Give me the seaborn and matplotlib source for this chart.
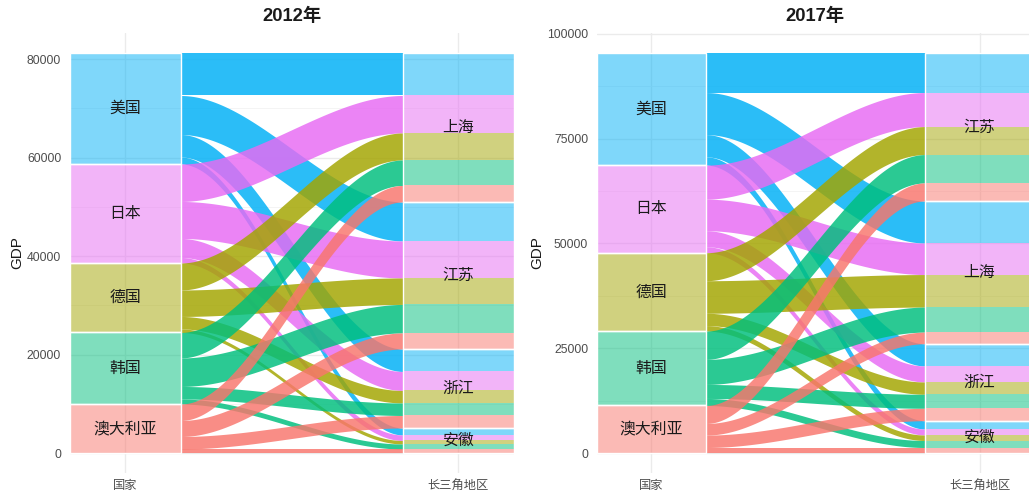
import matplotlib
matplotlib.use("Agg")
import matplotlib.pyplot as plt
import numpy as np
import pandas as pd
import seaborn as sns

# ---------------- data ----------------
countries = ['美国', '日本', '德国', '韩国', '澳大利亚']
country_colors = ['#00B0F6', '#E76BF3', '#A3A500', '#00BF7D', '#F8766D']

regions_2012 = ['上海', '江苏', '浙江', '安徽']
us_2012 = [8630, 7920, 4570, 1420]
jp_2012 = [7610, 7510, 3860, 1120]
de_2012 = [5480, 5380, 2540, 710]
kr_2012 = [5180, 5790, 2540, 1020]
au_2012 = [3350, 3250, 2540, 810]

regions_2017 = ['江苏', '上海', '浙江', '安徽']
us_2017 = [9430, 10030, 5300, 1980]
jp_2017 = [8120, 7520, 3820, 1430]
de_2017 = [6680, 7760, 2940, 1310]
kr_2017 = [6760, 5970, 3340, 1670]
au_2017 = [4300, 2770, 2960, 1310]

yticks_2012 = [0, 20000, 40000, 60000, 80000]
yticks_2017 = [0, 25000, 50000, 75000, 100000]
axis_labels = ['国家', '长三角地区']
titles = ['2012年', '2017年']


def long_table(regions, rows):
    recs = []
    for c, vals in zip(countries, rows):
        for r, v in zip(regions, vals):
            recs.append({'country': c, 'region': r, 'gdp': v})
    return pd.DataFrame(recs)


df12 = long_table(regions_2012, [us_2012, jp_2012, de_2012, kr_2012, au_2012])
df17 = long_table(regions_2017, [us_2017, jp_2017, de_2017, kr_2017, au_2017])

# ---------------- style ----------------
sns.set_theme(style="white")
plt.rcParams['font.family'] = ['Liberation Sans', 'Noto Sans CJK SC', 'DejaVu Sans']
palette = dict(zip(countries, sns.color_palette(country_colors)))

W, H = 1029, 495
fig = plt.figure(figsize=(W / 100, H / 100), dpi=100)


def smooth(t):
    return 3 * t ** 2 - 2 * t ** 3


def draw(ax, df, regions, yticks, title):
    total = df['gdp'].sum()
    w = 1 / 3
    xl, xr = 1 + w / 2, 2 - w / 2
    val = {(r.country, r.region): r.gdp for r in df.itertuples()}

    # left stacking: countries top->bottom, inside each: regions order
    left = {}
    left_strata = {}
    top = total
    for c in countries:
        ctop = top
        for r in regions:
            v = val[(c, r)]
            left[(c, r)] = (top - v, top)
            top -= v
        left_strata[c] = (top, ctop)
    # right stacking: regions top->bottom, inside each: countries order
    right = {}
    right_strata = {}
    top = total
    for r in regions:
        rtop = top
        for c in countries:
            v = val[(c, r)]
            right[(c, r)] = (top - v, top)
            top -= v
        right_strata[r] = (top, rtop)

    # grid
    minor = [(a + b) / 2 for a, b in zip(yticks[:-1], yticks[1:])]
    ax.set_yticks(yticks)
    ax.set_yticks(minor, minor=True)
    ax.set_xticks([1, 2])
    ax.set_xticklabels(axis_labels)
    ax.set_yticklabels([str(t) for t in yticks])
    ax.grid(which='major', color='#EBEBEB', linewidth=1.0)
    ax.grid(which='minor', axis='y', color='#F2F2F2', linewidth=0.6)
    ax.set_axisbelow(True)

    # flows
    xs = np.linspace(xl, xr, 200)
    t = (xs - xl) / (xr - xl)
    s = smooth(t)
    for c in countries:
        for r in regions:
            lb, lt = left[(c, r)]
            rb, rt = right[(c, r)]
            lower = lb + (rb - lb) * s
            upper = lt + (rt - lt) * s
            ax.fill_between(xs, lower, upper, color=palette[c], alpha=0.83,
                            linewidth=0, zorder=2)

    # lodes (light fill)
    for c in countries:
        for r in regions:
            lb, lt = left[(c, r)]
            ax.bar(1, lt - lb, bottom=lb, width=w, color=palette[c], alpha=0.5,
                   linewidth=0, zorder=3)
            rb, rt = right[(c, r)]
            ax.bar(2, rt - rb, bottom=rb, width=w, color=palette[c], alpha=0.5,
                   linewidth=0, zorder=3)
    # strata borders
    for c, (b, tp) in left_strata.items():
        ax.bar(1, tp - b, bottom=b, width=w, fill=False, edgecolor='white',
               linewidth=1.0, zorder=4)
        ax.text(1, (b + tp) / 2, c, ha='center', va='center', fontsize=11.4,
                color='#1a1a1a', zorder=5)
    for r, (b, tp) in right_strata.items():
        ax.bar(2, tp - b, bottom=b, width=w, fill=False, edgecolor='white',
               linewidth=1.0, zorder=4)
        ax.text(2, (b + tp) / 2, r, ha='center', va='center', fontsize=11.4,
                color='#1a1a1a', zorder=5)

    ax.set_xlim(1 - w / 2, 2 + w / 2)
    ax.set_ylim(-0.05 * total, 1.05 * total)
    for sp in ax.spines.values():
        sp.set_visible(False)
    ax.tick_params(axis='both', which='both', length=0, labelsize=8.8,
                   labelcolor='#4D4D4D')
    ax.tick_params(axis='y', pad=6)
    ax.tick_params(axis='x', pad=5)
    ax.set_ylabel('GDP', fontsize=11, color='#1a1a1a')
    ax.set_xlabel('')
    ax.set_title(title, fontsize=13.2, fontweight='bold', color='#1a1a1a', pad=9)


# panel 1
ax1 = fig.add_axes([69.5 / W, 1 - 473 / H, 444.4 / W, 440 / H])
draw(ax1, df12, regions_2012, yticks_2012, titles[0])
ax1.yaxis.label.set_va('center')
ax1.yaxis.set_label_coords(-(69.5 - 17) / 444.4, 0.5)

# panel 2
ax2 = fig.add_axes([596.5 / W, 1 - 473 / H, 437.8 / W, 440 / H])
draw(ax2, df17, regions_2017, yticks_2017, titles[1])
ax2.yaxis.label.set_va('center')
ax2.yaxis.set_label_coords(-(596.5 - 537) / 437.8, 0.5)

fig.savefig('out.png', dpi=100)
